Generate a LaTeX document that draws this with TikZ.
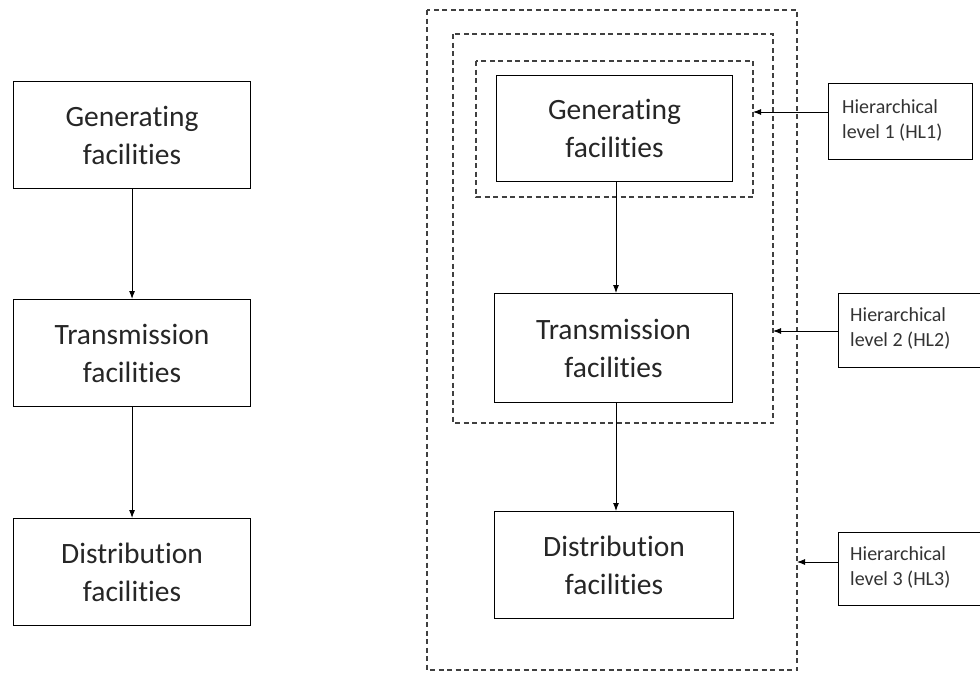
\documentclass[tikz,border=0pt]{standalone}
\usepackage{fontspec}
\setmainfont{Carlito}[RawFeature={-liga;-dlig;-calt;-clig}]
\usetikzlibrary{arrows.meta}
\begin{document}
\begin{tikzpicture}[x=1pt,y=-1pt,
  fbox/.style={draw, line width=1.1pt, anchor=north west, inner sep=0pt},
  ftext/.style={align=center, font=\fontsize{29.5}{38}\selectfont, text=black!85},
  lbox/.style={draw, line width=1.1pt, anchor=north west, inner sep=0pt},
  ltext/.style={anchor=base west, align=left, inner sep=0pt, font=\fontsize{20}{25}\selectfont, text=black!80},
  dbox/.style={draw=black!75, line width=1.3pt, dash pattern=on 5pt off 3.5pt},
  arr/.style={draw, line width=0.9pt, -{Latex[length=8pt,width=6pt]}}]
\useasboundingbox (0,0) rectangle (980,675);
% left column
\node[fbox, minimum width=237pt, minimum height=107pt] (lg) at (13,81) {};
\node[ftext] at (lg.center) {Generating\\facilities};
\node[fbox, minimum width=237pt, minimum height=107pt] (lt) at (13,299) {};
\node[ftext] at (lt.center) {Transmission\\facilities};
\node[fbox, minimum width=237pt, minimum height=107pt] (ld) at (13,518) {};
\node[ftext] at (ld.center) {Distribution\\facilities};
\draw[arr] (lg.south) -- (lt.north);
\draw[arr] (lt.south) -- (ld.north);
% dashed frames
\draw[dbox] (427,10) rectangle (797,670);
\draw[dbox] (453,34) rectangle (773,423);
\draw[dbox] (476,61) rectangle (753,197);
\coordinate (outerE) at (797,562);
\coordinate (midE) at (773,331);
\coordinate (innerE) at (753,112);
% right column
\node[fbox, minimum width=236pt, minimum height=106pt] (rg) at (496,75) {};
\node[ftext] at (rg.center) {Generating\\facilities};
\node[fbox, minimum width=238pt, minimum height=109pt] (rt) at (494,293) {};
\node[ftext] at (rt.center) {Transmission\\facilities};
\node[fbox, minimum width=239pt, minimum height=107pt] (rd) at (494,511) {};
\node[ftext] at (rd.center) {Distribution\\facilities};
\coordinate (rgS) at (616,181);
\coordinate (rtN) at (616,293);
\coordinate (rtS) at (616,402);
\coordinate (rdN) at (616,511);
\draw[arr] (rgS) -- (rtN);
\draw[arr] (rtS) -- (rdN);
% labels
\node[lbox, minimum width=144pt, minimum height=76pt] (h1) at (828,83) {};
\node[ltext] at (842,138) {Hierarchical\\level 1 (HL1)};
\node[lbox, minimum width=143pt, minimum height=74pt] (h2) at (838,293) {};
\node[ltext] at (850,346) {Hierarchical\\level 2 (HL2)};
\node[lbox, minimum width=143pt, minimum height=73pt] (h3) at (838,532) {};
\node[ltext] at (850,585) {Hierarchical\\level 3 (HL3)};
\draw[arr] (h1.west |- innerE) -- (innerE);
\draw[arr] (h2.west |- midE) -- (midE);
\draw[arr] (h3.west |- outerE) -- (outerE);
\end{tikzpicture}
\end{document}
